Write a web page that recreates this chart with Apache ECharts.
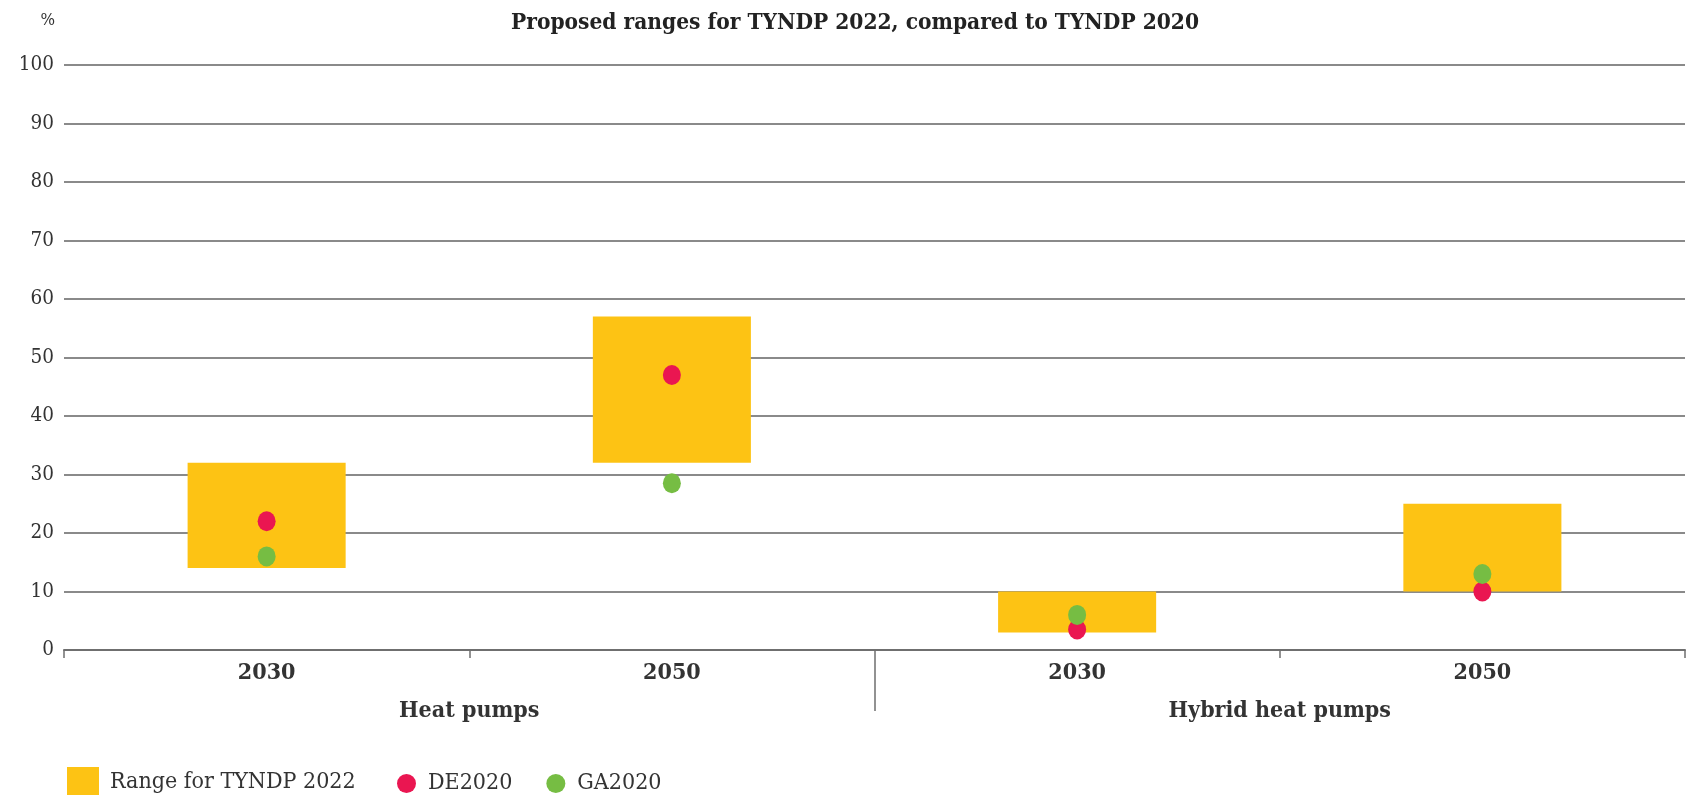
<!DOCTYPE html>
<html>
<head>
<meta charset="utf-8">
<script src="https://cdn.jsdelivr.net/npm/echarts@6/dist/echarts.min.js"></script>
<style>
  html, body { margin: 0; padding: 0; background: #fff; }
  #grafico { width: 1696px; height: 795px; }
</style>
</head>
<body>
<div id="grafico"></div>
<script>
const categories = ['2030', '2050', '2030', '2050'];
const groups = ['Heat pumps', 'Hybrid heat pumps'];
const rangeLow = [14, 32, 3, 10];
const rangeHigh = [32, 57, 10, 25];
const de2020 = [22, 47, 3.5, 10];
const ga2020 = [16, 28.5, 6, 13];

const fonte = "'DejaVu Serif Condensed', 'DejaVu Serif', serif";
const cinza = '#8a8a8a';

let myChart = echarts.init(document.getElementById('grafico'));

let option = {
  animation: false,
  textStyle: { fontFamily: fonte, color: '#333' },
  title: {
    text: 'Proposed ranges for TYNDP 2022, compared to TYNDP 2020',
    left: 850,
    textAlign: 'center',
    top: 7,
    textStyle: { fontFamily: fonte, fontSize: 22.5, fontWeight: 'bold', color: '#222' }
  },
  legend: [
    {
      data: ['Range for TYNDP 2022'],
      left: 62,
      top: 762,
      itemWidth: 32,
      itemHeight: 30,
      icon: 'rect',
      textStyle: { fontFamily: fonte, fontSize: 23, color: '#333', padding: [0, 0, 0, 6] }
    },
    {
      data: ['DE2020', 'GA2020'],
      left: 392,
      top: 767,
      itemWidth: 19,
      itemHeight: 19,
      itemGap: 34,
      icon: 'circle',
      textStyle: { fontFamily: fonte, fontSize: 23, color: '#333', padding: [0, 0, 0, 7] }
    }
  ],
  grid: { left: 64, right: 11, top: 65, bottom: 145 },
  xAxis: [
    {
      type: 'category',
      data: categories,
      axisLine: { lineStyle: { color: '#6f6f6f', width: 2 } },
      axisTick: { show: true, length: 8, lineStyle: { color: '#6f6f6f', width: 1.5 } },
      axisLabel: { fontFamily: fonte, fontSize: 23, fontWeight: 'bold', color: '#333', margin: 12 }
    },
    {
      type: 'value',
      position: 'bottom',
      min: 0,
      max: 2,
      axisLine: { show: false },
      splitLine: { show: false },
      axisTick: { show: true, customValues: [1], length: 61, lineStyle: { color: '#6f6f6f', width: 1.5 } },
      axisLabel: {
        customValues: [0.5, 1.5],
        margin: 50,
        fontFamily: fonte,
        fontSize: 23,
        fontWeight: 'bold',
        color: '#333',
        formatter: v => groups[Math.floor(v)]
      }
    }
  ],
  yAxis: {
    type: 'value',
    min: 0,
    max: 100,
    interval: 10,
    name: '%',
    nameGap: 36,
    nameTextStyle: { fontFamily: fonte, fontSize: 17, color: '#333', align: 'right', padding: [0, 9, 0, 0] },
    axisLine: { show: false },
    axisTick: { show: false },
    axisLabel: { fontFamily: fonte, fontSize: 20.5, color: '#333', margin: 10 },
    splitLine: { lineStyle: { color: cinza, width: 2 } }
  },
  series: [
    {
      name: 'base',
      type: 'bar',
      stack: 'faixa',
      barWidth: '39%',
      itemStyle: { color: 'transparent' },
      data: rangeLow,
      silent: true
    },
    {
      name: 'Range for TYNDP 2022',
      type: 'bar',
      stack: 'faixa',
      barWidth: '39%',
      itemStyle: { color: '#FDC314' },
      data: rangeHigh.map((v, i) => v - rangeLow[i])
    },
    {
      name: 'DE2020',
      type: 'scatter',
      symbol: 'circle',
      symbolSize: [18, 20],
      itemStyle: { color: '#EA1651', opacity: 1 },
      data: de2020,
      z: 5
    },
    {
      name: 'GA2020',
      type: 'scatter',
      symbol: 'circle',
      symbolSize: [18, 20],
      itemStyle: { color: '#76BD43', opacity: 1 },
      data: ga2020,
      z: 6
    }
  ]
};

option && myChart.setOption(option);
</script>
</body>
</html>
